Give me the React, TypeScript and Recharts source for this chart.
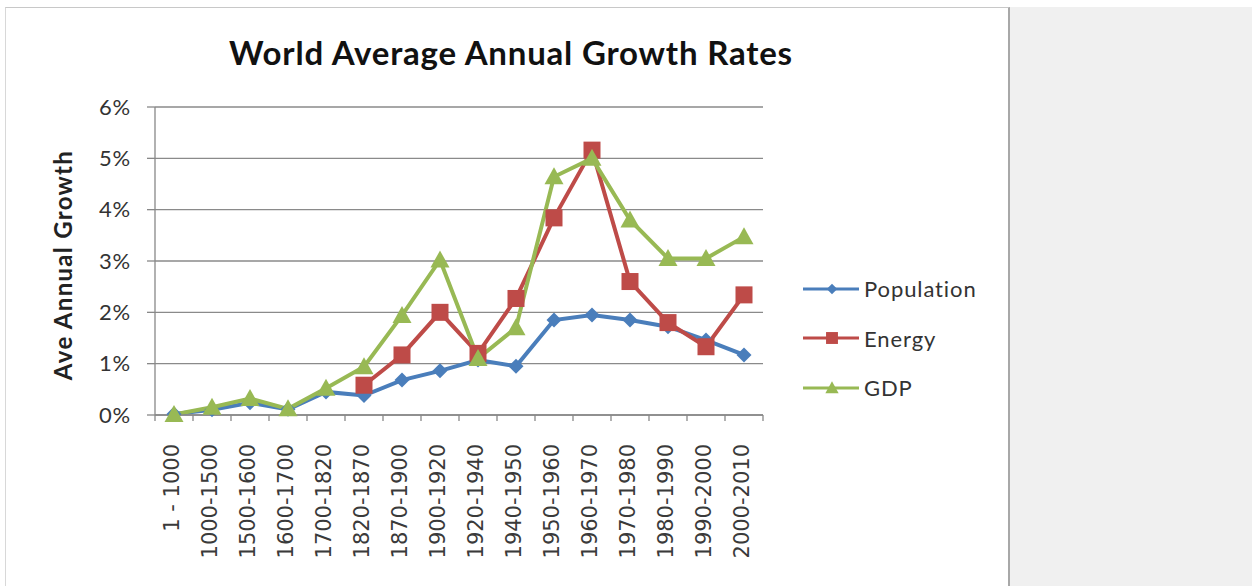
import React from "react";
import { LineChart, Line, XAxis, YAxis, CartesianGrid, Label } from "recharts";

const periods = [
  "1 - 1000", "1000-1500", "1500-1600", "1600-1700", "1700-1820", "1820-1870",
  "1870-1900", "1900-1920", "1920-1940", "1940-1950", "1950-1960", "1960-1970",
  "1970-1980", "1980-1990", "1990-2000", "2000-2010",
];
const population = [0.02, 0.1, 0.24, 0.11, 0.45, 0.38, 0.68, 0.86, 1.07, 0.95, 1.85, 1.95, 1.85, 1.72, 1.46, 1.17];
const energy = [null, null, null, null, null, 0.58, 1.17, 2.0, 1.2, 2.27, 3.84, 5.16, 2.6, 1.8, 1.33, 2.34];
const gdp = [0.01, 0.15, 0.32, 0.12, 0.52, 0.94, 1.94, 3.02, 1.1, 1.7, 4.64, 5.0, 3.8, 3.05, 3.05, 3.47];
const yTicks = [0, 1, 2, 3, 4, 5, 6];

const data = periods.map((p, i) => ({ period: p, Population: population[i], Energy: energy[i], GDP: gdp[i] }));

const series = [
  { key: "Population", color: "#4a7ebb", shape: "diamond" },
  { key: "Energy", color: "#be4b48", shape: "square" },
  { key: "GDP", color: "#98b954", shape: "triangle" },
];

const PLOT_LEFT = 155;
const PLOT_RIGHT = 763;
const STEP = (PLOT_RIGHT - PLOT_LEFT) / periods.length;

function Marker({ cx, cy, shape, color, scale = 1 }: any) {
  if (cx == null || cy == null) return null;
  if (shape === "diamond") {
    const r = 7.5 * scale;
    return <path d={`M${cx},${cy - r}L${cx + r},${cy}L${cx},${cy + r}L${cx - r},${cy}Z`} fill={color} />;
  }
  if (shape === "square") {
    const r = 8.5 * scale;
    return <rect x={cx - r} y={cy - r} width={r * 2} height={r * 2} fill={color} />;
  }
  const r = 9.5 * scale;
  const b = 7.5 * scale;
  return <path d={`M${cx},${cy - r}L${cx + r},${cy + b}L${cx - r},${cy + b}Z`} fill={color} />;
}

function XTick({ x, y, payload, index }: any) {
  const last = index === periods.length - 1;
  return (
    <g>
      <line x1={x - STEP / 2} x2={x - STEP / 2} y1={y - 8} y2={y - 2} stroke="#888" strokeWidth={1.3} />
      {last && <line x1={x + STEP / 2} x2={x + STEP / 2} y1={y - 8} y2={y - 2} stroke="#888" strokeWidth={1.3} />}
      <text
        transform={`translate(${x - 2},${y + 21}) rotate(-90)`}
        textAnchor="end"
        dominantBaseline="central"
        fontFamily="'DejaVu Sans', sans-serif"
        fontSize={21}
        fill="#3a3a3a"
      >
        {payload.value}
      </text>
    </g>
  );
}

export default function App() {
  return (
    <div style={{ position: "absolute", left: 0, top: 0, width: 1252, height: 586, background: "#fff", overflow: "hidden" }}>
      <div style={{ position: "absolute", left: 1010, top: 7, width: 242, height: 579, background: "#f0f0f0" }} />
      <div
        style={{
          position: "absolute", left: 5, top: 7, width: 1002, height: 600,
          borderTop: "1px solid #c8c8c8", borderLeft: "1px solid #d8d8d8", borderRight: "2px solid #a8a8a8",
        }}
      />
      <div
        style={{
          position: "absolute", left: 0, width: 1022, top: 32, textAlign: "center",
          fontFamily: "Lato, sans-serif", fontWeight: 700, fontSize: 33, letterSpacing: 0.8, color: "#111",
        }}
      >
        World Average Annual Growth Rates
      </div>
      <div style={{ position: "absolute", left: 0, top: 0 }}>
        <LineChart width={1010} height={586} data={data} margin={{ top: 107, right: 1010 - PLOT_RIGHT, bottom: 10, left: 0 }}>
          <CartesianGrid vertical={false} stroke="#8a8a8a" strokeWidth={1.3} />
          <XAxis
            dataKey="period"
            height={161}
            interval={0}
            padding={{ left: STEP / 2, right: STEP / 2 }}
            tickLine={false}
            axisLine={{ stroke: "#888", strokeWidth: 1.3 }}
            tick={<XTick />}
          />
          <YAxis
            width={PLOT_LEFT}
            domain={[0, 6]}
            ticks={yTicks}
            interval={0}
            tickFormatter={(v: number) => `${v}%`}
            tickSize={8}
            tickMargin={16}
            tickLine={{ stroke: "#888", strokeWidth: 1.3 }}
            axisLine={{ stroke: "#888", strokeWidth: 1.3 }}
            tick={{ fontFamily: "Lato, sans-serif", fontSize: 22, fill: "#333", letterSpacing: 0.8 }}
          >
            <Label
              value="Ave Annual Growth"
              angle={-90}
              position="insideLeft"
              offset={63}
              dy={4}
              style={{ textAnchor: "middle", fontFamily: "Lato, sans-serif", fontWeight: 700, fontSize: 24, letterSpacing: 1.3, fill: "#222" }}
            />
          </YAxis>
          {series.map((s) => (
            <Line
              key={s.key}
              dataKey={s.key}
              stroke={s.color}
              strokeWidth={4}
              isAnimationActive={false}
              dot={(p: any) => <Marker key={`${s.key}-${p.index}`} cx={p.cx} cy={p.cy} shape={s.shape} color={s.color} />}
              activeDot={false}
            />
          ))}
        </LineChart>
      </div>
      <div style={{ position: "absolute", left: 803, top: 264 }}>
        {series.map((s) => (
          <div key={s.key} style={{ display: "flex", alignItems: "center", height: 49.5 }}>
            <svg width={58} height={20}>
              <line x1={0} x2={56} y1={10} y2={10} stroke={s.color} strokeWidth={3} />
              <Marker cx={29} cy={10} shape={s.shape} color={s.color} scale={0.7} />
            </svg>
            <span style={{ fontFamily: "Lato, sans-serif", fontSize: 22, letterSpacing: 0.9, color: "#333", marginLeft: 3 }}>{s.key}</span>
          </div>
        ))}
      </div>
    </div>
  );
}
